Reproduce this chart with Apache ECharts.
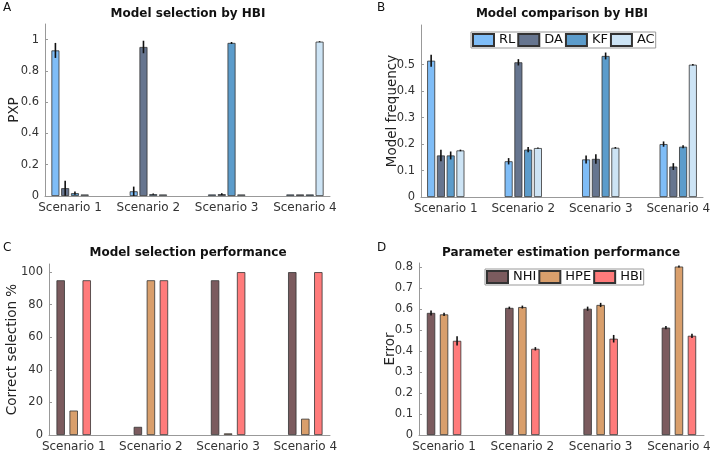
<!DOCTYPE html>
<html>
<head>
<meta charset="utf-8">
<script src="https://cdn.jsdelivr.net/npm/echarts@6/dist/echarts.min.js"></script>
<style>
html, body { margin: 0; padding: 0; background: #fff; }
#chart { width: 715px; height: 454px; }
</style>
</head>
<body>
<div id="chart"></div>
<script>
const scenarios = ['Scenario 1', 'Scenario 2', 'Scenario 3', 'Scenario 4']
const scenarioPos = [1, 2, 3, 4]

// A: model selection by HBI (PXP)
const models = ['RL', 'DA', 'KF', 'AC']
const pxpRL = [0.931, 0.03, 0.01, 0.01]
const pxpDA = [0.05, 0.953, 0.012, 0.01]
const pxpKF = [0.018, 0.012, 0.979, 0.01]
const pxpAC = [0.01, 0.01, 0.01, 0.987]
const pxpErrRL = [0.048, 0.03, 0, 0]
const pxpErrDA = [0.048, 0.04, 0.006, 0]
const pxpErrKF = [0.01, 0.004, 0.006, 0]
const pxpErrAC = [0, 0, 0, 0.003]

// B: model frequency
const freqRL = [0.515, 0.135, 0.142, 0.2]
const freqDA = [0.157, 0.509, 0.144, 0.115]
const freqKF = [0.157, 0.179, 0.533, 0.19]
const freqAC = [0.176, 0.185, 0.186, 0.5]
const freqErrRL = [0.023, 0.012, 0.015, 0.01]
const freqErrDA = [0.022, 0.012, 0.018, 0.013]
const freqErrKF = [0.015, 0.01, 0.013, 0.006]
const freqErrAC = [0.003, 0.002, 0.003, 0.003]
const freqTicks = [0, 0.1, 0.2, 0.3, 0.4, 0.5]

// C: correct selection %
const methods = ['NHI', 'HPE', 'HBI']
const selNHI = [95, 5, 95, 100]
const selHPE = [15, 95, 1, 10]
const selHBI = [95, 95, 100, 100]

// D: parameter estimation error
const errNHI = [0.582, 0.606, 0.602, 0.512]
const errHPE = [0.575, 0.61, 0.62, 0.803]
const errHBI = [0.449, 0.411, 0.459, 0.473]
const errSdNHI = [0.012, 0.006, 0.01, 0.008]
const errSdHPE = [0.008, 0.007, 0.01, 0.005]
const errSdHBI = [0.022, 0.008, 0.018, 0.01]

const modelColors = ['#7fbdf7', '#66758f', '#5c9ccb', '#cde4f5']
const methodColors = ['#7b5b5e', '#d99f6c', '#ff7b7b']

const font = 'DejaVu Sans'
const chart = echarts.init(document.getElementById('chart'))

const toPts = (vals) => vals.map((v, i) => [scenarioPos[i], v])

function barSeries(name, vals, color, g, width, gap) {
  return {
    name: name,
    type: 'bar',
    xAxisIndex: g,
    yAxisIndex: g,
    barWidth: width,
    barGap: gap,
    data: toPts(vals),
    itemStyle: { color: color, borderColor: '#333', borderWidth: 0.8 },
    emphasis: { disabled: true }
  }
}

// error bars, offset the same way ECharts groups the bars (px)
function errSeries(vals, errs, g, idx, n, step) {
  return {
    type: 'custom',
    xAxisIndex: g,
    yAxisIndex: g,
    z: 10,
    silent: true,
    data: vals.map((v, i) => [scenarioPos[i], v, errs[i]]),
    renderItem: (params, api) => {
      const e = api.value(2)
      if (!e) return null
      const off = (idx - (n - 1) / 2) * step
      const lo = api.coord([api.value(0), api.value(1) - e])
      const hi = api.coord([api.value(0), api.value(1) + e])
      return {
        type: 'line',
        shape: { x1: lo[0] + off, y1: lo[1], x2: hi[0] + off, y2: hi[1] },
        style: { stroke: '#111', lineWidth: 1.6 }
      }
    }
  }
}

function xAx(g) {
  return {
    gridIndex: g,
    type: 'value',
    min: 0.68,
    max: 4.32,
    axisLine: { show: true, lineStyle: { color: '#999' } },
    axisTick: { show: false },
    splitLine: { show: false },
    axisLabel: {
      customValues: scenarioPos,
      formatter: (v) => scenarios[Math.round(v) - 1],
      color: '#333',
      fontSize: 12,
      margin: 6
    }
  }
}

function yAx(g, name, max, interval, gap, extra) {
  return Object.assign({
    gridIndex: g,
    type: 'value',
    min: 0,
    max: max,
    interval: interval,
    name: name,
    nameLocation: 'middle',
    nameRotate: 90,
    nameGap: gap,
    nameMoveOverlap: false,
    nameTextStyle: { fontSize: 13.5, color: '#222' },
    axisLine: { show: true, lineStyle: { color: '#999' } },
    axisTick: { show: true, inside: true, length: 3, lineStyle: { color: '#999' } },
    splitLine: { show: false },
    axisLabel: { color: '#333', fontSize: 11.5, margin: 6, showMaxLabel: false }
  }, extra || {})
}

const titleStyle = { fontSize: 12, fontWeight: 'bold', color: '#111', fontFamily: font }
const letterStyle = { fontSize: 12, fontWeight: 'normal', color: '#111', fontFamily: font }

const series = []
const pxpVals = [pxpRL, pxpDA, pxpKF, pxpAC]
const pxpErrs = [pxpErrRL, pxpErrDA, pxpErrKF, pxpErrAC]
const freqVals = [freqRL, freqDA, freqKF, freqAC]
const freqErrs = [freqErrRL, freqErrDA, freqErrKF, freqErrAC]
const selVals = [selNHI, selHPE, selHBI]
const errVals = [errNHI, errHPE, errHBI]
const errSds = [errSdNHI, errSdHPE, errSdHBI]

models.forEach((m, i) => {
  series.push(barSeries(m, pxpVals[i], modelColors[i], 0, 8, '22%'))
})
models.forEach((m, i) => {
  series.push(barSeries(m, freqVals[i], modelColors[i], 1, 8, '22%'))
})
methods.forEach((m, i) => {
  series.push(barSeries(m, selVals[i], methodColors[i], 2, 8.4, '55%'))
})
methods.forEach((m, i) => {
  series.push(barSeries(m, errVals[i], methodColors[i], 3, 8.4, '55%'))
})
models.forEach((m, i) => {
  series.push(errSeries(pxpVals[i], pxpErrs[i], 0, i, 4, 9.76))
  series.push(errSeries(freqVals[i], freqErrs[i], 1, i, 4, 9.76))
})
methods.forEach((m, i) => {
  series.push(errSeries(errVals[i], errSds[i], 3, i, 3, 13.02))
})

const option = {
  animation: false,
  backgroundColor: '#fff',
  textStyle: { fontFamily: font },
  title: [
    { text: 'A', left: 3, top: 2, padding: 0, textStyle: letterStyle },
    { text: 'B', left: 377, top: 2, padding: 0, textStyle: letterStyle },
    { text: 'C', left: 3, top: 242, padding: 0, textStyle: letterStyle },
    { text: 'D', left: 377, top: 242, padding: 0, textStyle: letterStyle },
    { text: 'Model selection by HBI', left: 188, top: 8, padding: 0, textAlign: 'center', textStyle: titleStyle },
    { text: 'Model comparison by HBI', left: 562, top: 8, padding: 0, textAlign: 'center', textStyle: titleStyle },
    { text: 'Model selection performance', left: 188, top: 247, padding: 0, textAlign: 'center', textStyle: titleStyle },
    { text: 'Parameter estimation performance', left: 561, top: 247, padding: 0, textAlign: 'center', textStyle: titleStyle }
  ],
  legend: [
    {
      data: models,
      left: 471,
      top: 32,
      itemWidth: 21,
      itemHeight: 12,
      itemGap: 2,
      padding: [1, 1],
      borderColor: '#999',
      borderWidth: 1,
      icon: 'rect',
      selectedMode: false,
      textStyle: { fontSize: 13, color: '#111' }
    },
    {
      data: methods,
      left: 485,
      top: 269,
      itemWidth: 21,
      itemHeight: 12,
      itemGap: 2,
      padding: [1, 1],
      borderColor: '#999',
      borderWidth: 1,
      icon: 'rect',
      selectedMode: false,
      textStyle: { fontSize: 13, color: '#111' }
    }
  ],
  grid: [
    { left: 45, top: 24, width: 285, height: 172, outerBoundsMode: 'none' },
    { left: 421, top: 25, width: 282, height: 172, outerBoundsMode: 'none' },
    { left: 49, top: 264, width: 281, height: 171, outerBoundsMode: 'none' },
    { left: 419, top: 263, width: 285, height: 172, outerBoundsMode: 'none' }
  ],
  xAxis: [xAx(0), xAx(1), xAx(2), xAx(3)],
  yAxis: [
    yAx(0, 'PXP', 1.1, 0.2, 24),
    yAx(1, 'Model frequency', 0.65, 0.1, 22, {
      axisLabel: { customValues: freqTicks, color: '#333', fontSize: 11.5, margin: 6 },
      axisTick: { show: true, inside: true, length: 3, customValues: freqTicks, lineStyle: { color: '#999' } }
    }),
    yAx(2, 'Correct selection %', 105, 20, 30),
    yAx(3, 'Error', 0.82, 0.1, 22)
  ],
  series: series
}

chart.setOption(option)
</script>
</body>
</html>
